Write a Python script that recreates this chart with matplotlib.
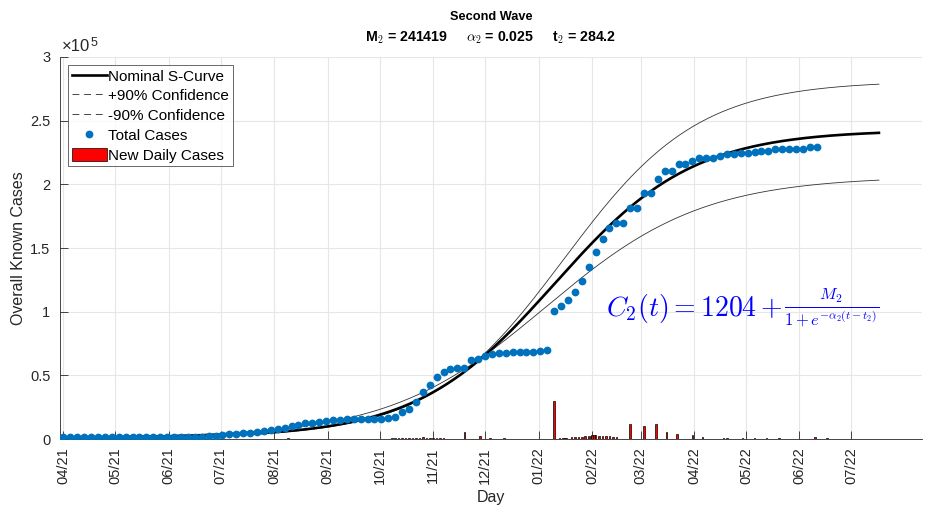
import numpy as np
import matplotlib
matplotlib.use('Agg')
import matplotlib.pyplot as plt
import matplotlib.dates as mdates
from matplotlib.lines import Line2D
from matplotlib.patches import Patch

plt.rcParams['font.family'] = ['Liberation Sans', 'DejaVu Sans']
plt.rcParams['mathtext.fontset'] = 'cm'

# --- data ---
start = np.datetime64('2021-04-01')

# total cases, one dot every 4 days from 2021-04-01
total_cases = [
    1204, 1230, 1250, 1270, 1290, 1310, 1330, 1350, 1370, 1390,
    1410, 1430, 1450, 1470, 1490, 1510, 1530, 1550, 1570, 1590,
    1600, 2000, 2500, 3100, 3700, 4300, 4700, 5000, 5600, 6300,
    7000, 7850, 8640, 10200, 11000, 12560, 12560, 13350, 14130, 14900,
    14900, 15700, 15700, 15700, 15700, 15700, 15700, 16500, 17300, 21200,
    23600, 29000, 36900, 42400, 48700, 52600, 55000, 55700, 55700, 62000,
    62800, 65200, 66700, 67500, 67500, 68300, 68300, 68300, 68300, 69100,
    69800, 100500, 104400, 109100, 115400, 124000, 135000, 146800, 157000, 165600,
    169600, 169600, 181300, 181300, 193100, 193100, 204100, 210400, 210400, 215900,
    215900, 218200, 221000, 221000, 221000, 222200, 223700, 223700, 224500, 224500,
    225300, 226100, 226100, 227700, 227700, 227700, 227700, 227700, 229200, 229200,
]

# new daily cases: day offset from 2021-04-01 and value
bar_days = [130, 137, 148, 157, 169,
            190, 192, 194, 196, 198, 200, 202, 204, 206, 208, 210, 212, 214, 216, 218, 220,
            232, 241, 247, 255,
            284, 285, 286, 287, 288, 289, 290, 291,
            294, 296, 298, 300, 302, 304, 305, 306, 307, 308, 310, 312, 314, 316, 318, 320,
            328, 336, 343, 349, 355, 364, 370, 382, 384, 393, 400, 407, 414, 425, 435, 442]
bar_vals = [500, 300, 300, 300, 300,
            700, 600, 800, 700, 900, 800, 1000, 900, 1100, 1200, 1000, 1100, 900, 1000, 800, 700,
            5500, 2000, 600, 700,
            29500, 400, 400, 500, 400, 500, 600, 500,
            1500, 1600, 1800, 1900, 2000, 2200, 2600, 3000, 3200, 2800, 2300, 2000, 2600, 2200, 1900, 1700,
            11500, 10500, 11500, 5500, 4000, 2800, 1500, 800, 700, 500, 500, 500, 500, 400, 1500, 1000]

# fitted S-curve parameters
C0 = 1204
M2, a2, t2 = 241419, 0.025, 284.2
M_up, a_up, t_up = 280000, 0.0257, 289.6
M_lo, a_lo, t_lo = 205000, 0.022, 279.2

# --- derived ---
t_dots = np.arange(len(total_cases)) * 4
dot_dates = start + t_dots.astype('timedelta64[D]')
bar_dates = start + np.array(bar_days).astype('timedelta64[D]')

t = np.arange(0, 473)
curve_dates = start + t.astype('timedelta64[D]')
nominal = C0 + M2 / (1 + np.exp(-a2 * (t - t2)))
upper = C0 + M_up / (1 + np.exp(-a_up * (t - t_up)))
lower = C0 + M_lo / (1 + np.exp(-a_lo * (t - t_lo)))

fig = plt.figure(figsize=(9.29, 5.08), dpi=100)
ax = fig.add_axes([0.0646, 0.1358, 0.928, 0.752])

ax.bar(bar_dates, bar_vals, width=0.9, color='red', edgecolor='black', linewidth=0.5, zorder=2)
ax.plot(curve_dates, upper, color='#333333', lw=0.6, zorder=3)
ax.plot(curve_dates, lower, color='#333333', lw=0.6, zorder=3)
ax.plot(curve_dates, nominal, color='black', lw=1.9, zorder=4)
ax.plot(dot_dates, total_cases, 'o', color='#0072BD', ms=5.6, mec='none', zorder=5)

ax.set_xlim(np.datetime64('2021-03-30'), np.datetime64('2022-08-11'))
ax.set_ylim(0, 3e5)
ax.set_xticks(np.arange(np.datetime64('2021-04'), np.datetime64('2022-08'),
                        np.timedelta64(1, 'M')).astype('datetime64[D]'))
ax.xaxis.set_major_formatter(mdates.DateFormatter('%m/%y'))
ax.set_yticks(np.arange(0, 3.01e5, 0.5e5))
ax.yaxis.set_major_formatter(plt.FuncFormatter(lambda v, p: f'{v/1e5:g}'))
plt.setp(ax.get_xticklabels(), rotation=90)
ax.tick_params(direction='in', length=6, width=0.6, colors='#262626', labelsize=10.5)
ax.tick_params(axis='x', pad=6)
ax.tick_params(axis='y', pad=7)
ax.grid(True, color='#e6e6e6', lw=0.8)
ax.set_axisbelow(True)
for s in ['top', 'right']:
    ax.spines[s].set_visible(False)
for s in ['left', 'bottom']:
    ax.spines[s].set_color('#262626')
    ax.spines[s].set_linewidth(0.6)

# x10^5 multiplier
mult = ax.text(0.002, 1.008, '\u00d710', transform=ax.transAxes, fontsize=12,
               color='#262626', va='bottom', ha='left')
ax.annotate('5', xy=(1, 0.75), xycoords=mult, xytext=(0.5, 0), textcoords='offset points',
            fontsize=9, color='#262626', va='center', ha='left')

ax.set_xlabel('Day', fontsize=11.5, color='#262626', labelpad=4)
ax.set_ylabel('Overall Known Cases', fontsize=11.5, color='#262626', labelpad=3)

# title, two lines
fig.text(0.5285, 0.967, 'Second Wave', fontsize=9.2, fontweight='bold', ha='center', va='center')
fig.text(0.5285, 0.925,
         r'M$_\mathbf{2}$ = 241419     $\alpha_2$ = 0.025     t$_\mathbf{2}$ = 284.2',
         fontsize=10.2, fontweight='bold', ha='center', va='center')

# formula
lhs = ax.text(0.6335, 0.323, r'$C_2(t) = 1204 + $', transform=ax.transAxes,
              fontsize=20, color='blue', ha='left', va='baseline')
ax.annotate(r'$\frac{M_2}{1+e^{-\alpha_2(t-t_2)}}$', xy=(1, 0.5), xycoords=lhs,
            xytext=(1, 0), textcoords='offset points', fontsize=17, color='blue',
            ha='left', va='center')

handles = [Line2D([], [], color='black', lw=1.9),
           Line2D([], [], color='#444444', lw=0.7, dashes=(7, 5)),
           Line2D([], [], color='#444444', lw=0.7, dashes=(7, 5)),
           Line2D([], [], ls='none', marker='o', color='#0072BD', ms=5.6, mec='none'),
           Patch(facecolor='red', edgecolor='black', lw=0.5)]
labels = ['Nominal S-Curve', '+90% Confidence', '-90% Confidence', 'Total Cases', 'New Daily Cases']
leg = ax.legend(handles, labels, loc='upper left', bbox_to_anchor=(0.009, 0.979), fontsize=11,
                frameon=True, fancybox=False, edgecolor='#262626', borderpad=0.25,
                labelspacing=0.32, handlelength=2.3, handleheight=0.95, handletextpad=0.1,
                borderaxespad=0)
leg.get_frame().set_linewidth(0.6)

fig.savefig('out.png', dpi=100)
